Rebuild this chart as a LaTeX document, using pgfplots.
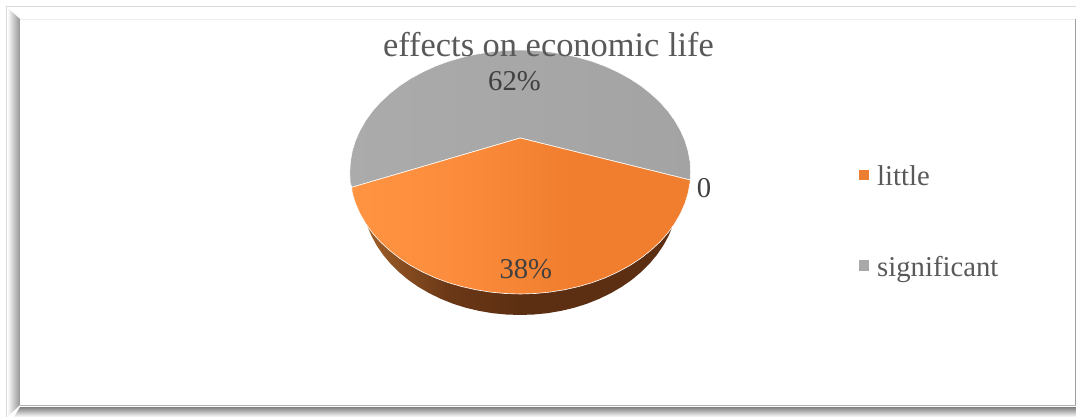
\documentclass[border=0pt]{standalone}
\usepackage{pgfplots}
\pgfplotsset{compat=1.18}
\usepackage{fontspec}
\setmainfont{Liberation Serif}
\definecolor{labelgray}{HTML}{595959}
\definecolor{datalabel}{HTML}{404040}
\definecolor{orangeA}{HTML}{ED7D31}
\definecolor{grayA}{HTML}{A9A9A9}
% horizontal ramps for the top of the orange slice and for the pie wall
\pgfdeclarehorizontalshading{sliceorange}{100bp}{
  rgb(0bp)=(1,0.58,0.26); rgb(25bp)=(1,0.58,0.26); rgb(40bp)=(0.99,0.55,0.24);
  rgb(57bp)=(0.945,0.495,0.185); rgb(100bp)=(0.94,0.49,0.18)}
\pgfdeclarehorizontalshading{piewall}{100bp}{
  rgb(0bp)=(0.62,0.37,0.16); rgb(25bp)=(0.62,0.37,0.16); rgb(38bp)=(0.42,0.22,0.09);
  rgb(50bp)=(0.365,0.185,0.07); rgb(100bp)=(0.365,0.185,0.07)}
\begin{document}
\begin{tikzpicture}
\begin{axis}[
  at={(0,0)}, anchor=south west,
  width=1076pt, height=417pt, scale only axis,
  xmin=0, xmax=1076, ymin=0, ymax=417, y dir=reverse,
  axis lines=none, clip=false,
]
% panel frame: outer rule, bevelled left and bottom bands, inner rules
\fill[white] (axis cs:0,0) rectangle (axis cs:1076,417);
\fill[gray!30] (axis cs:6,6) rectangle (axis cs:1076,7.5);
\fill[gray!30] (axis cs:6,6) rectangle (axis cs:7.2,417);
\shade[left color=white, right color=black!42]
  (axis cs:7.2,7.5) -- (axis cs:20,19) -- (axis cs:20,405) -- (axis cs:7.2,417) -- cycle;
\shade[top color=black!50, bottom color=white]
  (axis cs:14,417) -- (axis cs:20,407) -- (axis cs:1076,407) -- (axis cs:1076,417) -- cycle;
\fill[black!7] (axis cs:20,18.7) rectangle (axis cs:1076,20);
\fill[black!38] (axis cs:1074.8,19) rectangle (axis cs:1076,406);
\fill[black!30] (axis cs:20,404.8) rectangle (axis cs:1076,406);

% visible wall of the pie, lying below the orange slice
\addplot[draw=none, shading=piewall]
  coordinates {
  (367.4,226.1)(371.5,236)(376.8,245.7)(383.2,255)(390.6,263.8)(399,272.1)(408.3,279.9)
  (418.4,286.9)(429.4,293.3)(441,298.9)(453.2,303.8)(466,307.8)(479.1,310.9)(492.6,313.2)
  (506.2,314.5)(520,315)(533.8,314.5)(547.4,313.2)(560.9,310.9)(574,307.8)(586.8,303.8)
  (599,298.9)(610.6,293.3)(621.6,286.9)(631.7,279.9)(641,272.1)(649.4,263.8)(656.8,255)
  (663.2,245.7)(668.5,236)(672.6,226.1)(520,200)
  } -- cycle;

% significant, 62 %
\addplot[draw=white, line width=0.6pt, left color=black!33, right color=black!36]
  coordinates {
  (351.7,187.3)(350.15,182.6)(349.8,172)(350.4,161.4)(352.3,150.8)(355.5,140.4)(360,130.3)
  (365.7,120.4)(372.5,111)(380.5,102)(389.6,93.6)(399.6,85.7)(410.6,78.5)(422.4,72.1)
  (434.95,66.3)(448.15,61.4)(461.9,57.4)(476.1,54.2)(490.6,51.9)(505.3,50.5)(520.2,50)
  (535.1,50.5)(549.8,51.9)(564.3,54.2)(578.5,57.4)(592.25,61.4)(605.45,66.3)(618,72.1)
  (629.8,78.5)(640.8,85.7)(650.8,93.6)(659.9,102)(667.9,111)(674.7,120.4)(680.4,130.3)
  (684.9,140.4)(688.1,150.8)(690.05,161.4)(690.7,172)(690.2,180)(520.2,138)
  } -- cycle;

% little, 38 %
\addplot[draw=white, line width=0.6pt, shading=sliceorange]
  coordinates {
  (520.2,138)(690.2,180)(690.05,182.6)(688.1,193.2)(684.9,203.6)(680.4,213.7)(674.7,223.6)
  (667.9,233)(659.9,242)(650.8,250.4)(640.8,258.3)(629.8,265.5)(618,271.9)(605.45,277.7)
  (592.25,282.6)(578.5,286.6)(564.3,289.8)(549.8,292.1)(535.1,293.5)(520.2,294)(505.3,293.5)
  (490.6,292.1)(476.1,289.8)(461.9,286.6)(448.15,282.6)(434.95,277.7)(422.4,271.9)(410.6,265.5)
  (399.6,258.3)(389.6,250.4)(380.5,242)(372.5,233)(365.7,223.6)(360,213.7)(355.5,203.6)
  (352.3,193.2)(351.7,187.3)
  } -- cycle;

% legend keys
\addplot[only marks, mark=square*, mark size=4.7pt, orangeA, mark options={line width=0pt, draw=orangeA, fill=orangeA}]
  coordinates {(864,175)};
\addplot[only marks, mark=square*, mark size=4.7pt, grayA, mark options={line width=0pt, draw=grayA, fill=grayA}]
  coordinates {(864,265.5)};

% texts
\node[anchor=base, text=labelgray, font=\fontsize{34.4}{36}\selectfont, inner sep=0pt]
  at (axis cs:548.5,57) {effects on economic life};
\node[anchor=base, text=datalabel, font=\fontsize{28.7}{30}\selectfont, inner sep=0pt]
  at (axis cs:514.5,90.7) {62\%};
\node[anchor=base, text=datalabel, font=\fontsize{28.7}{30}\selectfont, inner sep=0pt]
  at (axis cs:525.8,278) {38\%};
\node[anchor=base, text=datalabel, font=\fontsize{28.7}{30}\selectfont, inner sep=0pt]
  at (axis cs:704,197) {0};
\node[anchor=base west, text=labelgray, font=\fontsize{28.7}{30}\selectfont, inner sep=0pt]
  at (axis cs:877,185) {little};
\node[anchor=base west, text=labelgray, font=\fontsize{28.7}{30}\selectfont, inner sep=0pt]
  at (axis cs:877,276) {significant};
\end{axis}
\end{tikzpicture}
\end{document}
